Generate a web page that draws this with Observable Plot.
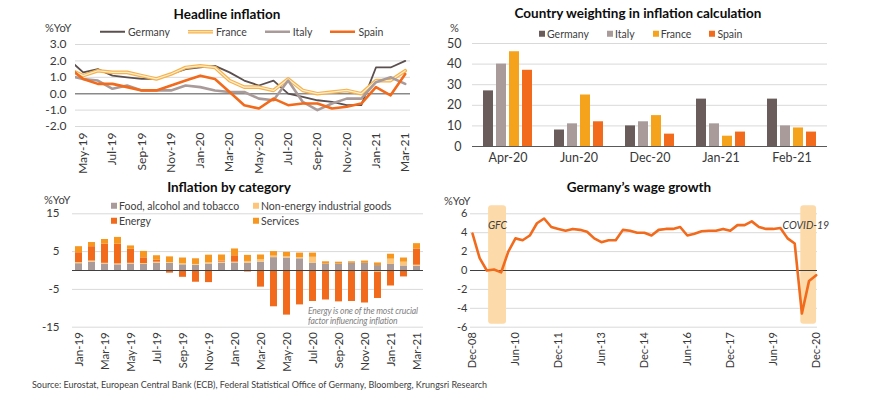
<!DOCTYPE html>
<html><head><meta charset="utf-8">
<script src="https://cdn.jsdelivr.net/npm/d3@7"></script>
<script src="https://cdn.jsdelivr.net/npm/@observablehq/plot@0.6"></script>
<style>
body{margin:0;background:#fff;}
#root{position:relative;width:870px;height:396px;overflow:hidden;font-family:Lato,sans-serif;color:#404040;background:#fff;}
.abs{position:absolute;white-space:nowrap;line-height:1;}
.title{font-weight:700;font-size:13.5px;color:#0d0d0d;transform:translate(-50%,-50%);}
.unit{font-size:11px;color:#404040;transform:translateY(-50%);}
.legend{position:absolute;display:flex;align-items:center;font-size:10.5px;color:#404040;transform:translateY(-50%);white-space:nowrap;line-height:1;}
.item{display:flex;align-items:center;}
.sw{display:inline-block;width:6px;height:6px;margin-right:2px;}
.note{font-size:8.6px;font-style:italic;color:#7f7f7f;letter-spacing:-0.15px;transform:translateY(-50%);}
.src{font-size:9px;color:#404040;transform:translateY(-50%);}
.plot{position:absolute;overflow:visible;}
</style></head><body><div id="root"></div>
<script>
// ---------- Headline inflation (%YoY) ----------
const hlMonths = ["Apr-19","May-19","Jun-19","Jul-19","Aug-19","Sep-19","Oct-19","Nov-19","Dec-19","Jan-20","Feb-20","Mar-20","Apr-20","May-20","Jun-20","Jul-20","Aug-20","Sep-20","Oct-20","Nov-20","Dec-20","Jan-21","Feb-21","Mar-21"];
const hlTickLabels = ["May-19","Jul-19","Sep-19","Nov-19","Jan-20","Mar-20","May-20","Jul-20","Sep-20","Nov-20","Jan-21","Mar-21"];
const hlGermany = [2.1,1.3,1.5,1.1,1.0,0.9,0.9,1.2,1.5,1.6,1.7,1.3,0.8,0.5,0.8,0.0,-0.2,-0.4,-0.5,-0.7,-0.7,1.6,1.6,2.0];
const hlFrance  = [1.5,1.1,1.4,1.3,1.3,1.1,0.9,1.2,1.6,1.7,1.6,0.8,0.4,0.4,0.2,0.9,0.2,0.0,0.1,0.2,0.0,0.8,0.8,1.4];
const hlItaly   = [1.1,0.9,0.8,0.3,0.5,0.2,0.2,0.2,0.5,0.4,0.2,0.1,0.1,-0.3,-0.4,0.8,-0.5,-1.0,-0.6,-0.3,-0.3,0.7,1.0,0.6];
const hlSpain   = [1.6,0.9,0.6,0.6,0.4,0.2,0.2,0.5,0.8,1.1,0.9,0.1,-0.7,-0.9,-0.3,-0.7,-0.6,-0.6,-0.9,-0.8,-0.6,0.4,-0.1,1.2];

// ---------- Country weighting (%) ----------
const wCats = ["Apr-20","Jun-20","Dec-20","Jan-21","Feb-21"];
const wCountries = ["Germany","Italy","France","Spain"];
const wGermany = [27,8,10,23,23];
const wItaly   = [40,11,12,11,10];
const wFrance  = [46,25,15,5,9];
const wSpain   = [37,12,6,7,7];

// ---------- Inflation by category (%YoY) ----------
const catMonths = ["Jan-19","Feb-19","Mar-19","Apr-19","May-19","Jun-19","Jul-19","Aug-19","Sep-19","Oct-19","Nov-19","Dec-19","Jan-20","Feb-20","Mar-20","Apr-20","May-20","Jun-20","Jul-20","Aug-20","Sep-20","Oct-20","Nov-20","Dec-20","Jan-21","Feb-21","Mar-21"];
const catTickLabels = ["Jan-19","Mar-19","May-19","Jul-19","Sep-19","Nov-19","Jan-20","Mar-20","May-20","Jul-20","Sep-20","Nov-20","Jan-21","Mar-21"];
const catNames = ["Food, alcohol and tobacco","Non-energy industrial goods","Energy","Services"];
const catFood     = [1.8,2.2,1.7,1.5,1.7,1.6,1.9,1.9,1.5,1.4,1.7,1.9,2.0,1.9,2.2,3.4,3.3,3.1,1.9,1.7,1.7,1.9,1.9,1.3,1.6,1.2,1.1];
const catNeig     = [0.3,0.3,0.2,0.25,0.2,0.25,0.3,0.2,0.3,0.2,0.35,0.3,0.2,0.5,0.6,0.4,0.3,0.3,1.6,-0.1,-0.1,-0.1,-0.3,-0.5,1.4,1.0,0.3];
const catEnergy   = [2.6,3.8,5.1,5.2,3.7,1.5,0.5,-0.7,-1.8,-3.1,-3.2,0.3,1.7,-0.4,-4.4,-9.6,-11.8,-9.1,-8.2,-7.7,-8.2,-8.1,-8.3,-6.9,-4.1,-1.7,4.3];
const catServices = [1.6,1.1,1.2,1.8,0.9,1.7,1.2,1.5,1.5,1.5,2.0,1.6,1.8,1.6,1.3,1.2,1.2,1.2,1.1,0.6,0.5,0.4,0.6,0.7,1.3,1.1,1.4];
const catNote = ["Energy is one of the most crucial", "factor influencing inflation"];

// ---------- Germany's wage growth (%YoY, quarterly Dec-08 .. Dec-20) ----------
const wageValues = [3.9,1.3,0.0,0.1,-0.2,2.0,3.4,3.2,3.7,5.0,5.5,4.6,4.4,4.2,4.4,4.3,4.1,3.4,3.0,3.2,3.2,4.3,4.2,4.0,4.0,3.7,4.3,4.4,4.4,4.6,3.7,3.9,4.15,4.2,4.2,4.4,4.2,4.8,4.8,5.2,4.6,4.4,4.4,4.5,3.4,2.85,-4.55,-1.1,-0.5];
const wageTickLabels = ["Dec-08","Jun-10","Dec-11","Jun-13","Dec-14","Jun-16","Dec-17","Jun-19","Dec-20"];
const wageBandLabels = ["GFC","COVID-19"];
const wageBandStart = [2.25, 45.85];   // in quarters from Dec-08
const wageBandEnd   = [4.75, 48.05];

const sourceText = "Source: Eurostat, European Central Bank (ECB), Federal Statistical Office of Germany, Bloomberg, Krungsri Research";

// quarter labels (categories)
const qMonths = ["Mar","Jun","Sep","Dec"];
const wageQuarters = wageValues.map((_, i) => {
  const m = 11 + i * 3; // months after Jan-2008
  const y = 2008 + Math.floor(m / 12);
  return qMonths[Math.floor((m % 12) / 3)] + "-" + String(y % 100).padStart(2, "0");
});

// ---------- colours ----------
const C = {
  germany: "#5b4f4f", germanyBar: "#6b5c5c", italy: "#a99b99", france: "#f5a21c",
  franceOuter: "#f6b24c", franceInner: "#fdeecf", spain: "#f26a1b",
  food: "#a99b99", neig: "#fcc57a", energy: "#f26a1b", services: "#f7971f",
  grid: "#d9d9d9", band: "#fcdaa9"
};

const root = document.getElementById("root");
function place(el, left, top) { el.classList.add("plot"); el.style.left = left + "px"; el.style.top = top + "px"; root.append(el); }
function text(cls, str, left, top) { const d = document.createElement("div"); d.className = "abs " + cls; d.textContent = str; d.style.left = left + "px"; d.style.top = top + "px"; root.append(d); return d; }
const st = (fs) => ({fontFamily: "Lato, sans-serif", fontSize: fs + "px", color: "#383838", background: "transparent", overflow: "visible"});

// ===== Chart 1: Headline inflation =====
const hlIdx = hlMonths.map((_, i) => i);
const chart1 = Plot.plot({
  width: 420, height: 180,
  marginLeft: 75, marginRight: 10, marginTop: 44, marginBottom: 54,
  style: st(12),
  x: {type: "linear", domain: [0.474, 23.36], ticks: hlTickLabels.map(l => hlMonths.indexOf(l)), tickFormat: i => hlMonths[i], tickRotate: -90, tickSize: 0, tickPadding: 6, label: null},
  y: {domain: [-2, 3], ticks: [-2,-1,0,1,2,3], tickFormat: d => d.toFixed(1), tickSize: 0, tickPadding: 9, label: null},
  marks: [
    Plot.ruleY([-2,-1,1,2,3], {stroke: C.grid}),
    Plot.ruleY([0], {stroke: "#8a8a8a", strokeWidth: 1.5}),
    Plot.line(hlIdx, {x: i => i, y: i => hlGermany[i], stroke: C.germany, strokeWidth: 1.8, clip: true}),
    Plot.line(hlIdx, {x: i => i, y: i => hlFrance[i], stroke: C.franceOuter, strokeWidth: 3.6, clip: true}),
    Plot.line(hlIdx, {x: i => i, y: i => hlFrance[i], stroke: C.franceInner, strokeWidth: 1.2, clip: true}),
    Plot.line(hlIdx, {x: i => i, y: i => hlItaly[i], stroke: C.italy, strokeWidth: 2.6, clip: true}),
    Plot.line(hlIdx, {x: i => i, y: i => hlSpain[i], stroke: C.spain, strokeWidth: 2.6, clip: true})
  ]
});
place(chart1, 0, 0);

// ===== Chart 2: Country weighting =====
const wSeries = {Germany: wGermany, Italy: wItaly, France: wFrance, Spain: wSpain};
const wData = wCats.flatMap((cat, i) => wCountries.map(c => ({cat, country: c, value: wSeries[c][i]})));
const wColors = [C.germanyBar, C.italy, C.france, C.spain];
const chart2 = Plot.plot({
  width: 450, height: 180,
  marginLeft: 52, marginRight: 43, marginTop: 43, marginBottom: 34,
  style: st(12.5),
  facet: {data: wData, x: "cat"},
  fx: {domain: wCats, padding: 0, label: null, tickSize: 0, tickPadding: 7, axis: "bottom"},
  x: {domain: wCountries, axis: null, paddingInner: 0.22, paddingOuter: 0.74},
  y: {domain: [0, 50], ticks: [0,10,20,30,40,50], tickSize: 0, tickPadding: 11, label: null},
  color: {domain: wCountries, range: wColors},
  marks: [
    Plot.ruleY([10,20,30,40,50], {stroke: C.grid}),
    Plot.barY(wData, {x: "country", y: "value", fill: "country"}),
    Plot.ruleY([0], {stroke: "#595959", strokeWidth: 1.2})
  ]
});
place(chart2, 420, 0);

// ===== Chart 3: Inflation by category =====
const catSeries = [catFood, catNeig, catEnergy, catServices];
const catData = catNames.flatMap((name, k) => catMonths.map((m, i) => ({month: m, cat: name, value: catSeries[k][i]})));
const chart3 = Plot.plot({
  width: 430, height: 196,
  marginLeft: 72, marginRight: 7, marginTop: 33.3, marginBottom: 49.3,
  style: st(11.5),
  x: {domain: catMonths, paddingInner: 0.44, paddingOuter: 0.22, ticks: catTickLabels, tickRotate: -90, tickSize: 0, tickPadding: 5, label: null},
  y: {domain: [-15, 15], ticks: [-15,-5,5,15], tickFormat: d => String(d), tickSize: 0, tickPadding: 13, label: null},
  color: {domain: catNames, range: [C.food, C.neig, C.energy, C.services]},
  marks: [
    Plot.ruleY([-15,-5,5,15], {stroke: C.grid}),
    Plot.barY(catData, {x: "month", y: "value", fill: "cat", z: "cat"}),
    Plot.ruleY([0], {stroke: "#404040", strokeWidth: 1})
  ]
});
place(chart3, 0, 180);

// ===== Chart 4: Germany's wage growth =====
const wageIdx = wageValues.map((_, i) => i);
const bands = wageBandLabels.map((label, i) => ({label, start: wageBandStart[i], end: wageBandEnd[i]}));
const chart4 = Plot.plot({
  width: 440, height: 196,
  marginLeft: 40, marginRight: 53, marginTop: 33.3, marginBottom: 49.3,
  style: st(11),
  x: {type: "linear", domain: [-0.28, 48.18], ticks: wageTickLabels.map(l => wageQuarters.indexOf(l)), tickFormat: i => wageQuarters[i], tickRotate: -90, tickSize: 0, tickPadding: 5, label: null},
  y: {domain: [-6, 6], ticks: [-6,-4,-2,0,2,4,6], tickFormat: d => String(d), tickSize: 0, tickPadding: 3, label: null},
  marks: [
    Plot.ruleY([-6,-4,-2,2,4,6], {stroke: C.grid}),
    Plot.rect(bands, {x1: "start", x2: "end", y1: -5.7, y2: 6.85, fill: C.band, rx: 3}),
    Plot.ruleY([0], {stroke: "#404040", strokeWidth: 1}),
    Plot.line(wageIdx, {x: i => i, y: i => wageValues[i], stroke: C.spain, strokeWidth: 2.6}),
    Plot.text(bands, {x: d => (d.start + d.end) / 2 - (d.label.length > 3 ? 0.4 : 0), frameAnchor: "top", dy: 8, text: "label", fontStyle: "italic", fontSize: 10.5, fill: "#404040"})
  ]
});
place(chart4, 430, 180);

// ===== Titles, units, legends =====
text("title", "Headline inflation", 227, 15);
text("title", "Country weighting in inflation calculation", 638, 14);
text("title", "Inflation by category", 229, 188);
text("title", "Germany\u2019s wage growth", 639, 188);
text("unit", "%YoY", 45, 27);
text("unit", "%", 450, 27);
text("unit", "%YoY", 44, 199);
text("unit", "%YoY", 444, 200);

function lineMarker(color, kind) {
  const ns = "http://www.w3.org/2000/svg";
  const s = document.createElementNS(ns, "svg");
  s.setAttribute("width", 25); s.setAttribute("height", 6); s.style.marginRight = "3px";
  const mk = (c, w) => { const l = document.createElementNS(ns, "line"); l.setAttribute("x1", 0); l.setAttribute("x2", 25); l.setAttribute("y1", 3); l.setAttribute("y2", 3); l.setAttribute("stroke", c); l.setAttribute("stroke-width", w); s.append(l); };
  if (kind === "double") { mk(C.franceOuter, 3.6); mk(C.franceInner, 1.2); } else mk(color, kind === "thick" ? 2.6 : 1.8);
  return s;
}
function legendRow(left, top, items, gap) {
  const row = document.createElement("div");
  row.className = "legend"; row.style.left = left + "px"; row.style.top = top + "px"; row.style.gap = gap + "px";
  for (const it of items) {
    const d = document.createElement("div"); d.className = "item";
    d.append(it.marker); d.append(document.createTextNode(it.label)); row.append(d);
  }
  root.append(row);
}
function square(color) { const s = document.createElement("span"); s.className = "sw"; s.style.background = color; return s; }

legendRow(100, 32, [
  {label: "Germany", marker: lineMarker(C.germany)},
  {label: "France", marker: lineMarker(null, "double")},
  {label: "Italy", marker: lineMarker(C.italy, "thick")},
  {label: "Spain", marker: lineMarker(C.spain, "thick")}
], 18);
legendRow(539, 34, wCountries.map((c, i) => ({label: c, marker: square(wColors[i])})), 18);
const catColors = [C.food, C.neig, C.energy, C.services];
[[0, 111, 206], [1, 253, 206], [2, 111, 221], [3, 253, 221]].forEach(([k, x, y]) => legendRow(x, y, [{label: catNames[k], marker: square(catColors[k])}], 0));

text("note", catNote[0], 308, 311);
text("note", catNote[1], 308, 321);
text("src", sourceText, 32, 384);
</script></body></html>
